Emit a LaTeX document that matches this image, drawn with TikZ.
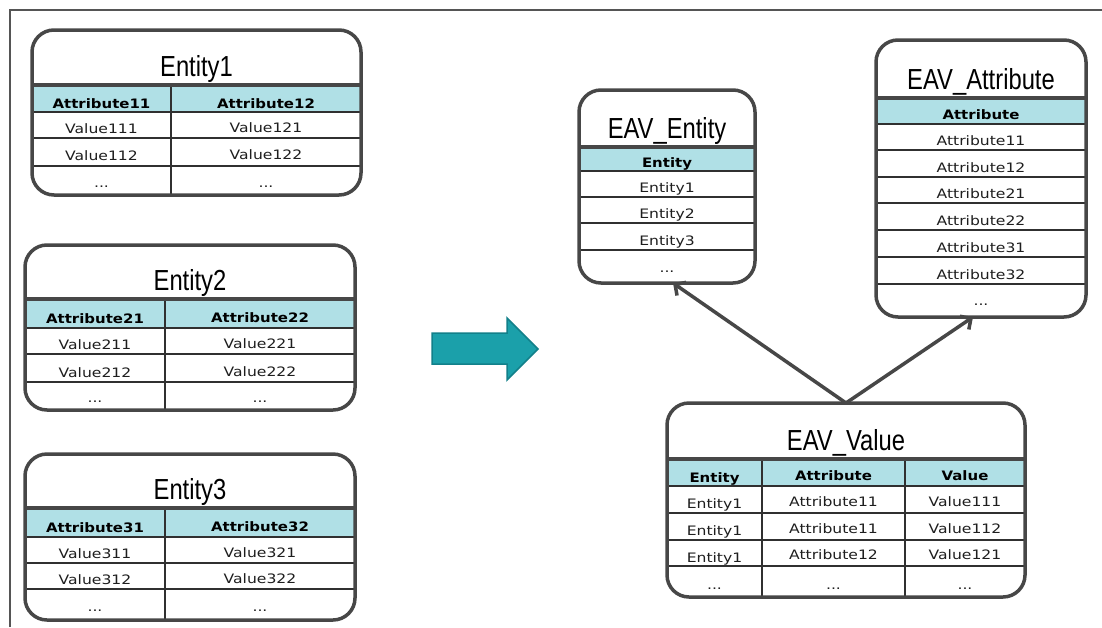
\documentclass[tikz,border=0pt]{standalone}
\usepackage{fontspec}
\setmainfont{DejaVu Sans}
\newfontfamily\titlefont{Liberation Sans}[FakeStretch=0.82]
\newfontfamily\cellfont{DejaVu Sans}[FakeStretch=1.2]
\newfontfamily\headfont{DejaVu Sans Bold}[FakeStretch=1.15]
\usetikzlibrary{arrows.meta}

\definecolor{headfill}{HTML}{B0E0E6}
\definecolor{framegray}{HTML}{474747}
\definecolor{rulegray}{HTML}{303030}
\definecolor{cellink}{HTML}{1E1E1E}
\definecolor{bigarrowfill}{HTML}{1BA0AA}
\definecolor{bigarrowedge}{HTML}{12808A}
\definecolor{pageframe}{HTML}{555555}

\tikzset{
  tablefill/.style={fill=white, inner sep=0pt, outer sep=0pt, rounded corners=22pt},
  tableframe/.style={draw=framegray, line width=3.5pt, rounded corners=22pt},
  titlerule/.style={draw=framegray, line width=4pt},
  rowrule/.style={draw=rulegray, line width=1.5pt},
  titletext/.style={font=\titlefont\fontsize{29}{30}\selectfont, text=black, inner sep=0pt, anchor=base},
  headtext/.style={font=\headfont\fontsize{13}{15}\selectfont, text=black, inner sep=0pt, anchor=base},
  celltext/.style={font=\cellfont\fontsize{13}{15}\selectfont, text=cellink, inner sep=0pt, anchor=base},
  link/.style={draw=framegray, line width=3.5pt, -{Straight Barb[length=8pt,width=16pt]}},
  bigarrow/.style={fill=bigarrowfill, draw=bigarrowedge, line width=1.5pt, line join=miter},
}

\begin{document}
\begin{tikzpicture}[x=1pt, y=-1pt]
\useasboundingbox (0,0) rectangle (1102,627);
\fill[white] (0,0) rectangle (1102,627);

% page frame (top and left edges)
\draw[pageframe, line width=1.2pt] (10,627) -- (10,10) -- (1102,10);

% ---------------- Entity1 ----------------
\node[tablefill, minimum width=329pt, minimum height=165pt] (ent1) at (196.5,112.5) {};
\fill[headfill] (32,85) rectangle (361,112);
\foreach \y in {112,138,166} \draw[rowrule] (32,\y) -- (361,\y);
\draw[rowrule] (171,85) -- (171,195);
\draw[titlerule] (32,85) -- (361,85);
\node[titletext] (ent1-title) at (196.5,76) {Entity1};
\node[headtext] (ent1-h1) at (101.5,108) {Attribute11};
\node[headtext] (ent1-h2) at (266,108) {Attribute12};
\node[celltext] (ent1-a1) at (101.5,133) {Value111};
\node[celltext] (ent1-a2) at (266,132) {Value121};
\node[celltext] (ent1-b1) at (101.5,160) {Value112};
\node[celltext] (ent1-b2) at (266,159) {Value122};
\node[celltext] (ent1-c1) at (101.5,187) {...};
\node[celltext] (ent1-c2) at (266,187) {...};
\draw[tableframe] (ent1.north west) rectangle (ent1.south east);

% ---------------- Entity2 ----------------
\node[tablefill, minimum width=330pt, minimum height=165pt] (ent2) at (190,327.5) {};
\fill[headfill] (25,299) rectangle (355,328);
\foreach \y in {328,354,382} \draw[rowrule] (25,\y) -- (355,\y);
\draw[rowrule] (165,299) -- (165,410);
\draw[titlerule] (25,299) -- (355,299);
\node[titletext] (ent2-title) at (190,290) {Entity2};
\node[headtext] (ent2-h1) at (95,323) {Attribute21};
\node[headtext] (ent2-h2) at (260,322) {Attribute22};
\node[celltext] (ent2-a1) at (95,349) {Value211};
\node[celltext] (ent2-a2) at (260,348) {Value221};
\node[celltext] (ent2-b1) at (95,377) {Value212};
\node[celltext] (ent2-b2) at (260,376) {Value222};
\node[celltext] (ent2-c1) at (95,402) {...};
\node[celltext] (ent2-c2) at (260,402) {...};
\draw[tableframe] (ent2.north west) rectangle (ent2.south east);

% ---------------- Entity3 ----------------
\node[tablefill, minimum width=330pt, minimum height=166pt] (ent3) at (190,537) {};
\fill[headfill] (25,508) rectangle (355,537);
\foreach \y in {537,563,589} \draw[rowrule] (25,\y) -- (355,\y);
\draw[rowrule] (165,508) -- (165,620);
\draw[titlerule] (25,508) -- (355,508);
\node[titletext] (ent3-title) at (190,499) {Entity3};
\node[headtext] (ent3-h1) at (95,532) {Attribute31};
\node[headtext] (ent3-h2) at (260,531) {Attribute32};
\node[celltext] (ent3-a1) at (95,558) {Value311};
\node[celltext] (ent3-a2) at (260,557) {Value321};
\node[celltext] (ent3-b1) at (95,584) {Value312};
\node[celltext] (ent3-b2) at (260,583) {Value322};
\node[celltext] (ent3-c1) at (95,611) {...};
\node[celltext] (ent3-c2) at (260,611) {...};
\draw[tableframe] (ent3.north west) rectangle (ent3.south east);

% ---------------- transformation arrow ----------------
\draw[bigarrow] (432,333) -- (507,333) -- (507,318) -- (538,349)
  -- (507,380) -- (507,364) -- (432,364) -- cycle;

% ---------------- EAV_Entity ----------------
\node[tablefill, minimum width=176pt, minimum height=193pt] (eavent) at (667,186.5) {};
\fill[headfill] (579,147) rectangle (755,171);
\foreach \y in {171,197,223,250} \draw[rowrule] (579,\y) -- (755,\y);
\draw[titlerule] (579,147) -- (755,147);
\node[titletext] (eavent-title) at (667,138) {EAV\_Entity};
\node[headtext] (eavent-h) at (667,167) {Entity};
\node[celltext] (eavent-r1) at (667,192) {Entity1};
\node[celltext] (eavent-r2) at (667,218) {Entity2};
\node[celltext] (eavent-r3) at (667,245) {Entity3};
\node[celltext] (eavent-r4) at (667,272) {...};
\draw[tableframe] (eavent.north west) rectangle (eavent.south east);

% ---------------- EAV_Attribute ----------------
\node[tablefill, minimum width=210pt, minimum height=277pt] (eavattr) at (981,178.5) {};
\fill[headfill] (876,98) rectangle (1086,124);
\foreach \y in {124,150,177,203,230,257,284} \draw[rowrule] (876,\y) -- (1086,\y);
\draw[titlerule] (876,98) -- (1086,98);
\node[titletext] (eavattr-title) at (981,89) {EAV\_Attribute};
\node[headtext] (eavattr-h) at (981,119) {Attribute};
\node[celltext] (eavattr-r1) at (981,145) {Attribute11};
\node[celltext] (eavattr-r2) at (981,172) {Attribute12};
\node[celltext] (eavattr-r3) at (981,198) {Attribute21};
\node[celltext] (eavattr-r4) at (981,225) {Attribute22};
\node[celltext] (eavattr-r5) at (981,252) {Attribute31};
\node[celltext] (eavattr-r6) at (981,279) {Attribute32};
\node[celltext] (eavattr-r7) at (981,305) {...};
\draw[tableframe] (eavattr.north west) rectangle (eavattr.south east);

% ---------------- EAV_Value ----------------
\node[tablefill, minimum width=358pt, minimum height=194pt] (eavval) at (846,500) {};
\fill[headfill] (667,459) rectangle (1025,486);
\foreach \y in {486,513,540,566} \draw[rowrule] (667,\y) -- (1025,\y);
\draw[rowrule] (762,459) -- (762,597);
\draw[rowrule] (905,459) -- (905,597);
\draw[titlerule] (667,459) -- (1025,459);
\node[titletext] (eavval-title) at (846,450) {EAV\_Value};
\node[headtext] (eavval-h1) at (714.5,482) {Entity};
\node[headtext] (eavval-h2) at (833.5,480) {Attribute};
\node[headtext] (eavval-h3) at (965,480) {Value};
\node[celltext] (eavval-a1) at (714.5,508) {Entity1};
\node[celltext] (eavval-a2) at (833.5,506) {Attribute11};
\node[celltext] (eavval-a3) at (965,506) {Value111};
\node[celltext] (eavval-b1) at (714.5,535) {Entity1};
\node[celltext] (eavval-b2) at (833.5,533) {Attribute11};
\node[celltext] (eavval-b3) at (965,533) {Value112};
\node[celltext] (eavval-c1) at (714.5,562) {Entity1};
\node[celltext] (eavval-c2) at (833.5,559) {Attribute12};
\node[celltext] (eavval-c3) at (965,559) {Value121};
\node[celltext] (eavval-d1) at (714.5,589) {...};
\node[celltext] (eavval-d2) at (833.5,589) {...};
\node[celltext] (eavval-d3) at (965,589) {...};
\draw[tableframe] (eavval.north west) rectangle (eavval.south east);

% ---------------- references ----------------
\draw[link] (eavval.north) -- ([xshift=6pt]eavent.south);
\draw[link] (eavval.north) -- ([xshift=-8pt]eavattr.south);
\end{tikzpicture}
\end{document}
